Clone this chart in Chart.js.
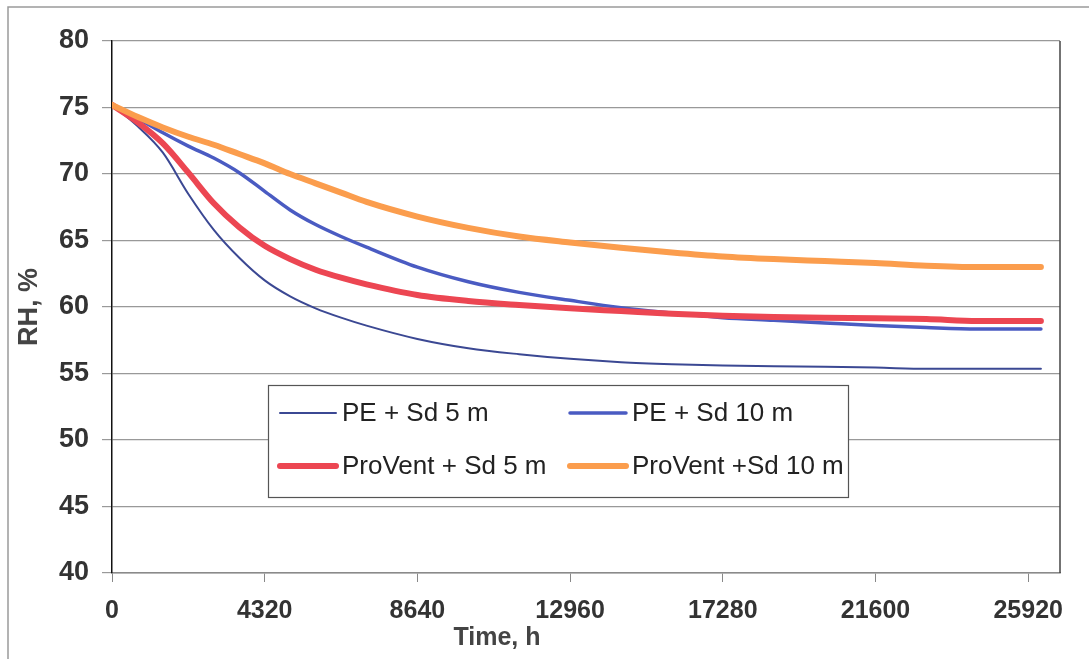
<!DOCTYPE html>
<html>
<head>
<meta charset="utf-8">
<script src="https://cdn.jsdelivr.net/npm/chart.js@4.4.0/dist/chart.umd.min.js"></script>
<style>
  html, body { margin: 0; padding: 0; background: #fff; }
  #wrap { width: 1089px; height: 659px; }
</style>
</head>
<body>
<div id="wrap"><canvas id="rhChart" width="1089" height="659"></canvas></div>
<script>
// RH values
const timeHours = [0, 720, 1440, 2160, 2880, 3600, 4320, 5040, 5760, 6480, 7200, 8640,
    10080, 11520, 12960, 14400, 15840, 17280, 18720, 20160, 21600, 23040, 24480, 26280];
const pe5 = [75.2, 73.6, 71.6, 68.5, 65.8, 63.7, 62.0, 60.8, 59.9, 59.2, 58.6, 57.6,
    56.9, 56.45, 56.1, 55.85, 55.7, 55.6, 55.55, 55.5, 55.45, 55.35, 55.35, 55.35];
const pe10 = [75.2, 74.2, 73.1, 72.1, 71.2, 70.1, 68.7, 67.3, 66.2, 65.3, 64.5, 63.0,
    61.9, 61.1, 60.5, 59.95, 59.55, 59.2, 59.0, 58.8, 58.6, 58.45, 58.35, 58.35];
const proVent5 = [75.2, 73.9, 72.3, 70.1, 67.8, 66.0, 64.6, 63.6, 62.8, 62.2, 61.7, 60.9,
    60.45, 60.15, 59.9, 59.7, 59.5, 59.35, 59.25, 59.2, 59.15, 59.1, 58.95, 58.95];
const proVent10 = [75.2, 74.3, 73.5, 72.8, 72.2, 71.5, 70.8, 70.0, 69.3, 68.6, 67.9, 66.8,
    65.95, 65.3, 64.85, 64.45, 64.1, 63.8, 63.6, 63.45, 63.3, 63.1, 63.0, 63.0];

const seriesLabels = ["PE + Sd 5 m", "PE + Sd 10 m", "ProVent + Sd 5 m", "ProVent +Sd 10 m"];
const xTickValues = [0, 4320, 8640, 12960, 17280, 21600, 25920];

const FONT = "'Liberation Sans', Arial, sans-serif";

function toPoints(values) {
    return values.map((v, i) => ({ x: timeHours[i], y: v }));
}

// frame, right border of the plot, x title and the legend box
const decorations = {
    id: "decorations",
    beforeDraw(chart) {
        const ctx = chart.ctx;
        ctx.save();
        ctx.strokeStyle = "#9a9a9a";
        ctx.lineWidth = 1.5;
        ctx.beginPath();
        ctx.moveTo(8, 659);
        ctx.lineTo(8, 7);
        ctx.lineTo(1089, 7);
        ctx.stroke();
        ctx.restore();
    },
    afterDraw(chart) {
        const ctx = chart.ctx;
        const area = chart.chartArea;
        ctx.save();
        ctx.strokeStyle = "#444";
        ctx.lineWidth = 1.5;
        ctx.beginPath();
        ctx.moveTo(area.right, area.top);
        ctx.lineTo(area.right, area.bottom);
        ctx.stroke();

        ctx.fillStyle = "#444";
        ctx.font = "bold 25px " + FONT;
        ctx.textAlign = "center";
        ctx.textBaseline = "middle";
        ctx.fillText("Time, h", 497, 638);

        // legend
        ctx.fillStyle = "#fff";
        ctx.fillRect(268, 385, 581, 113);
        ctx.strokeStyle = "#555";
        ctx.lineWidth = 1.2;
        ctx.strokeRect(268.5, 385.5, 580, 112);

        const cols = [280, 570];
        const rows = [413, 466];
        ctx.font = "26px " + FONT;
        ctx.textAlign = "left";
        chart.data.datasets.forEach((ds, i) => {
            const x = cols[i % 2];
            const y = rows[Math.floor(i / 2)];
            ctx.strokeStyle = ds.borderColor;
            ctx.lineWidth = ds.borderWidth;
            ctx.lineCap = "round";
            ctx.beginPath();
            ctx.moveTo(x, y);
            ctx.lineTo(x + 56, y);
            ctx.stroke();
            ctx.fillStyle = "#222";
            ctx.fillText(ds.label, x + 62, y + 1);
        });
        ctx.restore();
    }
};

new Chart(document.getElementById("rhChart"), {
    type: "line",
    data: {
        datasets: [
            { label: seriesLabels[0], data: toPoints(pe5), borderColor: "#3b4893", borderWidth: 2, order: 3 },
            { label: seriesLabels[1], data: toPoints(pe10), borderColor: "#4a5bc2", borderWidth: 3.5, order: 2 },
            { label: seriesLabels[2], data: toPoints(proVent5), borderColor: "#ec4652", borderWidth: 6, order: 1 },
            { label: seriesLabels[3], data: toPoints(proVent10), borderColor: "#fb9d4d", borderWidth: 6, order: 0 },
        ],
    },
    options: {
        responsive: false,
        animation: false,
        layout: { padding: { top: 41, right: 29, left: 0, bottom: 0 } },
        elements: {
            point: { radius: 0 },
            line: { cubicInterpolationMode: "monotone", borderCapStyle: "round" },
        },
        plugins: {
            legend: { display: false },
            tooltip: { enabled: false },
        },
        scales: {
            x: {
                type: "linear",
                min: 0,
                max: 26820,
                afterBuildTicks: (scale) => {
                    scale.ticks = xTickValues.map((v) => ({ value: v }));
                },
                afterFit: (scale) => {
                    scale.height = 86;
                },
                grid: {
                    drawOnChartArea: false,
                    drawTicks: true,
                    tickLength: 9,
                    color: "#888",
                },
                border: { color: "#8a8a8a", width: 1.5 },
                ticks: {
                    color: "#333",
                    padding: 14,
                    maxRotation: 0,
                    callback: (value) => String(value),
                    font: { family: FONT, size: 25, weight: "bold" },
                },
            },
            y: {
                min: 40,
                max: 80,
                afterFit: (scale) => {
                    scale.width = 112;
                },
                grid: {
                    color: "#999",
                    lineWidth: 1.2,
                    tickLength: 10,
                },
                border: { color: "#111", width: 1.5 },
                ticks: {
                    stepSize: 5,
                    color: "#333",
                    padding: 13,
                    font: { family: FONT, size: 27, weight: "bold" },
                },
                title: {
                    display: true,
                    text: "RH, %",
                    color: "#444",
                    padding: { top: 13 },
                    font: { family: FONT, size: 27, weight: "bold" },
                },
            },
        },
    },
    plugins: [decorations],
});
</script>
</body>
</html>
